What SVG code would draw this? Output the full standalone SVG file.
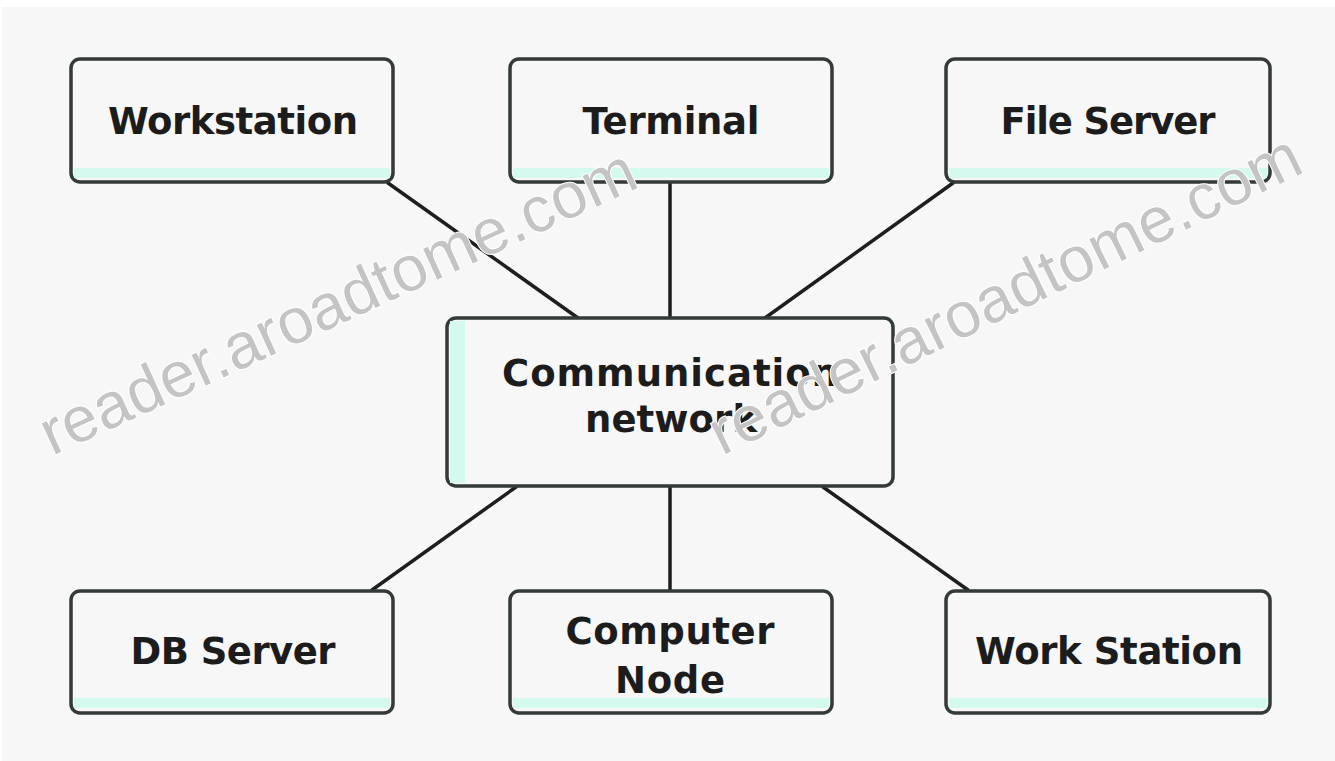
<svg xmlns="http://www.w3.org/2000/svg" width="1335" height="761" viewBox="0 0 1335 761">
  <style>
    .box { fill: #f7f7f7; stroke: #333a37; stroke-width: 3.5; }
    .band { fill: #d4f9ee; }
    .label { font-family: "DejaVu Sans", "Liberation Sans", sans-serif; font-weight: bold; font-size: 37px; fill: #1c1c1c; text-anchor: middle; }
    .link { stroke: #1e1e1e; stroke-width: 3.5; fill: none; stroke-linecap: round; }
    .mark { font-family: "Liberation Sans", Arial, sans-serif; font-size: 64px; fill: #c4c4c4; stroke: #ffffff; stroke-width: 2; paint-order: stroke; }
  </style>

  <!-- page -->
  <rect x="0" y="0" width="1335" height="761" fill="#ffffff"/>
  <rect x="2" y="7" width="1333" height="754" fill="#f7f7f7"/>

  <!-- links between the hub and the outer nodes -->
  <g id="connectors">
    <line class="link" x1="388" y1="183" x2="578" y2="318"/>
    <line class="link" x1="670" y1="183" x2="670" y2="318"/>
    <line class="link" x1="953" y1="183" x2="765" y2="318"/>
    <line class="link" x1="516" y1="487" x2="372" y2="590"/>
    <line class="link" x1="670" y1="487" x2="670" y2="590"/>
    <line class="link" x1="823" y1="487" x2="968" y2="590"/>
  </g>

  <g id="workstation">
    <rect class="box" x="71" y="59" width="322" height="123" rx="9"/>
    <rect class="band" x="74" y="168" width="316" height="10"/>
    <text class="label" x="233" y="134" textLength="250" lengthAdjust="spacing">Workstation</text>
  </g>

  <g id="terminal">
    <rect class="box" x="510" y="59" width="322" height="123" rx="9"/>
    <rect class="band" x="513" y="168" width="316" height="10"/>
    <text class="label" x="671" y="134" textLength="177" lengthAdjust="spacing">Terminal</text>
  </g>

  <g id="file-server">
    <rect class="box" x="946" y="59" width="324" height="123" rx="9"/>
    <rect class="band" x="949" y="168" width="318" height="10"/>
    <text class="label" x="1108" y="134" textLength="215" lengthAdjust="spacing">File Server</text>
  </g>

  <g id="communication-network">
    <rect class="box" x="447" y="318" width="446" height="168" rx="9"/>
    <rect class="band" x="450" y="321" width="15" height="162"/>
    <text class="label" x="670" y="386" textLength="336" lengthAdjust="spacing">Communication</text>
    <text class="label" x="671" y="432" textLength="172" lengthAdjust="spacing">network</text>
  </g>

  <g id="db-server">
    <rect class="box" x="71" y="591" width="322" height="122" rx="9"/>
    <rect class="band" x="74" y="698" width="316" height="10"/>
    <text class="label" x="233" y="664" textLength="205" lengthAdjust="spacing">DB Server</text>
  </g>

  <g id="computer-node">
    <rect class="box" x="510" y="591" width="322" height="122" rx="9"/>
    <rect class="band" x="513" y="698" width="316" height="10"/>
    <text class="label" x="670" y="644" textLength="209" lengthAdjust="spacing">Computer</text>
    <text class="label" x="670" y="693" textLength="110" lengthAdjust="spacing">Node</text>
  </g>

  <g id="work-station">
    <rect class="box" x="946" y="591" width="324" height="122" rx="9"/>
    <rect class="band" x="949" y="698" width="318" height="10"/>
    <text class="label" x="1109" y="664" textLength="268" lengthAdjust="spacing">Work Station</text>
  </g>

  <!-- site watermark -->
  <g id="watermark">
    <text class="mark" transform="translate(52 456) rotate(-24.6)" textLength="648" lengthAdjust="spacing">reader.aroadtome.com</text>
    <text class="mark" transform="translate(722 456) rotate(-26)" textLength="650" lengthAdjust="spacing">reader.aroadtome.com</text>
  </g>
</svg>
